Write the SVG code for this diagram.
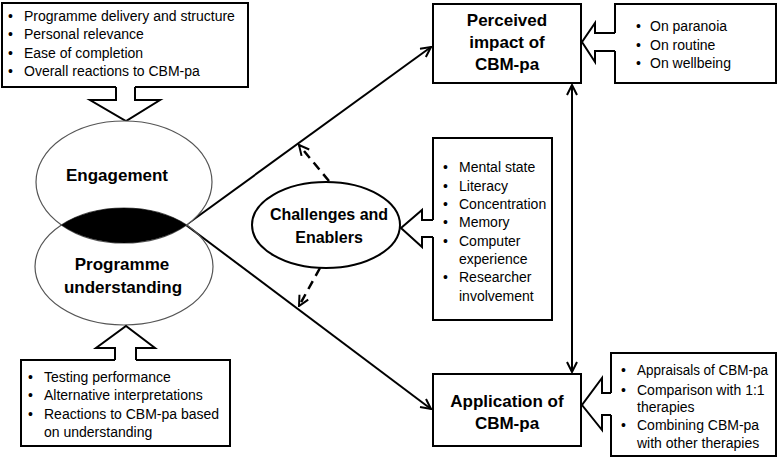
<svg xmlns="http://www.w3.org/2000/svg" width="778" height="459" viewBox="0 0 778 459">
<style>
text{font-family:"Liberation Sans",Arial,sans-serif;fill:#000}
.t{font-size:14px}
.b{font-size:17px;font-weight:bold;text-anchor:middle}
.box{fill:#fff;stroke:#000;stroke-width:2}
.ha{fill:none;stroke:#000;stroke-width:2;stroke-linejoin:miter}
.hf{fill:#fff;stroke:none}
.ell{fill:#fff;stroke:#555;stroke-width:1.2}
.con{fill:none;stroke:#000;stroke-width:2}
.dash{fill:none;stroke:#000;stroke-width:2.5;stroke-dasharray:9,6}
</style>
<defs>
<marker id="ah" viewBox="0 0 12 12" refX="11" refY="6" markerWidth="12" markerHeight="12" markerUnits="userSpaceOnUse" orient="auto-start-reverse">
<path d="M1,1 L11,6 L1,11" fill="none" stroke="#000" stroke-width="2"/>
</marker>
<clipPath id="clipE"><ellipse cx="124" cy="182" rx="88" ry="61"/></clipPath>
</defs>

<g id="connectors">
<line class="con" x1="186" y1="225" x2="431" y2="47" marker-end="url(#ah)"/>
<line class="con" x1="186" y1="225" x2="431" y2="409" marker-end="url(#ah)"/>
<line class="con" x1="572" y1="85" x2="572" y2="372" marker-start="url(#ah)" marker-end="url(#ah)"/>
<line class="dash" x1="329" y1="181" x2="299" y2="145" marker-end="url(#ah)"/>
<line class="dash" x1="320" y1="268" x2="299" y2="306" marker-end="url(#ah)"/>
</g>

<g id="engagement-factors">
<rect class="box" x="2" y="3" width="246" height="84"/>
<text class="t" x="8" y="21">•</text><text class="t" x="24" y="21">Programme delivery and structure</text>
<text class="t" x="8" y="39">•</text><text class="t" x="24" y="39">Personal relevance</text>
<text class="t" x="8" y="58">•</text><text class="t" x="24" y="58">Ease of completion</text>
<text class="t" x="8" y="76">•</text><text class="t" x="24" y="76">Overall reactions to CBM-pa</text>
<path class="hf" d="M116,85 L116,100 L90,100 L126,121 L160,100 L135,100 L135,85 Z"/>
<path class="ha" d="M116,87 L116,100 L90,100 L126,121 L160,100 L135,100 L135,87"/>
</g>

<g id="engagement">
<ellipse class="ell" cx="124" cy="182" rx="88" ry="61"/>
<text class="b" x="117" y="181">Engagement</text>
</g>

<g id="programme-understanding">
<ellipse class="ell" cx="124" cy="266.5" rx="89" ry="58.5" style="fill:none"/>
<ellipse cx="124" cy="266.5" rx="89" ry="58.5" fill="#000" clip-path="url(#clipE)"/>
<text class="b" x="122" y="270">Programme</text>
<text class="b" x="123" y="293">understanding</text>
</g>

<g id="understanding-factors">
<rect class="box" x="21" y="360" width="209" height="86"/>
<path class="hf" d="M115,362 L115,348 L96,348 L126,326 L155,348 L136,348 L136,362 Z"/>
<path class="ha" d="M115,360 L115,348 L96,348 L126,326 L155,348 L136,348 L136,360"/>
<text class="t" x="28" y="382">•</text><text class="t" x="44" y="382">Testing performance</text>
<text class="t" x="28" y="400">•</text><text class="t" x="44" y="400">Alternative interpretations</text>
<text class="t" x="28" y="419">•</text><text class="t" x="44" y="419">Reactions to CBM-pa based</text>
<text class="t" x="44" y="437">on understanding</text>
</g>

<g id="perceived-impact">
<rect class="box" x="433" y="4" width="148" height="79"/>
<text class="b" x="507" y="26">Perceived</text>
<text class="b" x="507" y="48">impact of</text>
<text class="b" x="507" y="70">CBM-pa</text>
</g>

<g id="impact-factors">
<rect class="box" x="615" y="4" width="161" height="79"/>
<path class="hf" d="M617,33 L595,33 L595,23 L582,42 L595,62 L595,51 L617,51 Z"/>
<path class="ha" d="M615,33 L595,33 L595,23 L582,42 L595,62 L595,51 L615,51"/>
<text class="t" x="636" y="31">•</text><text class="t" x="650" y="31">On paranoia</text>
<text class="t" x="636" y="50">•</text><text class="t" x="650" y="50">On routine</text>
<text class="t" x="636" y="68">•</text><text class="t" x="650" y="68">On wellbeing</text>
</g>

<g id="challenges">
<ellipse cx="326" cy="225" rx="74" ry="43" fill="#fff" stroke="#000" stroke-width="2"/>
<text class="b" x="329" y="220" style="font-size:16px">Challenges and</text>
<text class="b" x="329" y="243" style="font-size:16px">Enablers</text>
</g>

<g id="challenge-factors">
<rect class="box" x="433" y="138" width="119" height="182"/>
<path class="hf" d="M435,220 L422,220 L422,210 L401,228 L422,247 L422,237 L435,237 Z"/>
<path class="ha" d="M433,220 L422,220 L422,210 L401,228 L422,247 L422,237 L433,237"/>
<text class="t" x="443" y="172">•</text><text class="t" x="459" y="172">Mental state</text>
<text class="t" x="443" y="191">•</text><text class="t" x="459" y="191">Literacy</text>
<text class="t" x="443" y="209">•</text><text class="t" x="459" y="209">Concentration</text>
<text class="t" x="443" y="227">•</text><text class="t" x="459" y="227">Memory</text>
<text class="t" x="443" y="246">•</text><text class="t" x="459" y="246">Computer</text>
<text class="t" x="459" y="264">experience</text>
<text class="t" x="443" y="282">•</text><text class="t" x="459" y="282">Researcher</text>
<text class="t" x="459" y="301">involvement</text>
</g>

<g id="application">
<rect class="box" x="433" y="374" width="148" height="72"/>
<text class="b" x="507" y="407">Application of</text>
<text class="b" x="507" y="429">CBM-pa</text>
</g>

<g id="application-factors">
<rect class="box" x="611" y="353" width="165" height="103"/>
<path class="hf" d="M613,393 L602,393 L602,378 L582,405 L602,430 L602,415 L613,415 Z"/>
<path class="ha" d="M611,393 L602,393 L602,378 L582,405 L602,430 L602,415 L611,415"/>
<text class="t" x="621" y="375">•</text><text class="t" x="637" y="375" textLength="131" lengthAdjust="spacingAndGlyphs">Appraisals of CBM-pa</text>
<text class="t" x="621" y="395">•</text><text class="t" x="637" y="395">Comparison with 1:1</text>
<text class="t" x="637" y="412">therapies</text>
<text class="t" x="621" y="430">•</text><text class="t" x="637" y="430">Combining CBM-pa</text>
<text class="t" x="637" y="448">with other therapies</text>
</g>
</svg>
